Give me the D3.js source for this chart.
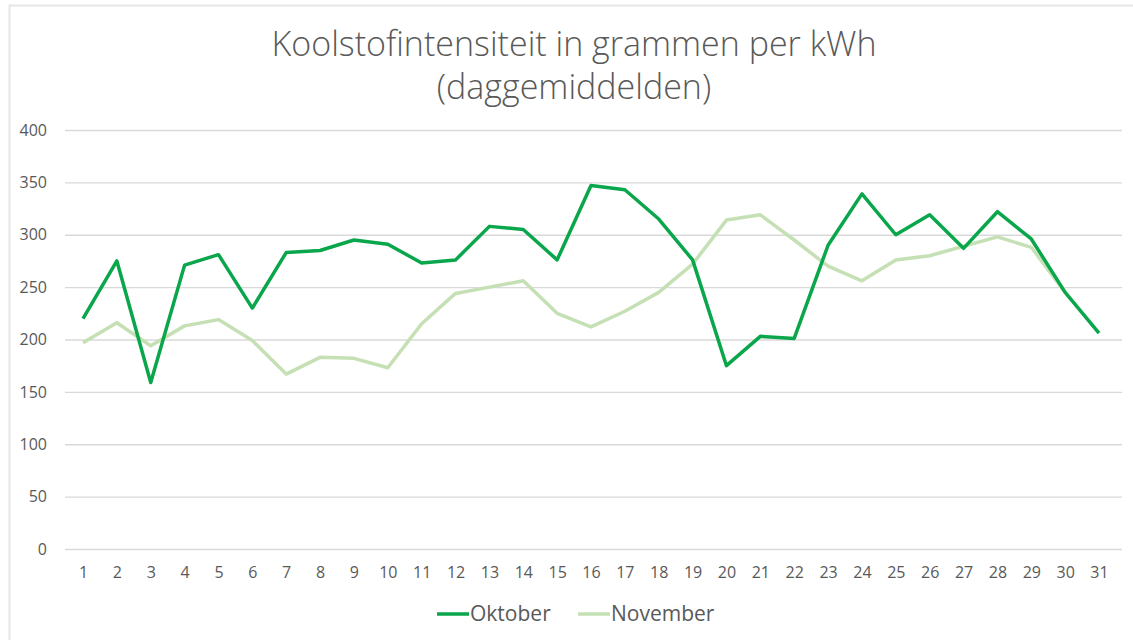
<!DOCTYPE html>
<html>
<head>
<meta charset="utf-8">
<script src="https://cdn.jsdelivr.net/npm/d3@7"></script>
<style>
  body { margin: 0; background: #fff; }
  text { font-family: "Open Sans", "Noto Sans", sans-serif; fill: #595959; }
</style>
</head>
<body>
<div id="chart"></div>
<script>
// daily averages, g CO2 per kWh
var days = d3.range(1, 32);
var oktober = [220, 275, 159, 271, 281, 230, 283, 285, 295, 291, 273, 276, 308, 305, 276, 347,
               343, 315, 276, 175, 203, 201, 290, 339, 300, 319, 287, 322, 296, 245, 206];
var november = [197, 216, 194, 213, 219, 199, 167, 183, 182, 173, 215, 244, 250, 256, 225, 212,
                227, 245, 272, 314, 319, 295, 270, 256, 276, 280, 289, 298, 288, 245];
var yTicks = [0, 50, 100, 150, 200, 250, 300, 350, 400];
var titleLines = ["Koolstofintensiteit in grammen per kWh", "(daggemiddelden)"];
var seriesNames = ["Oktober", "November"];
var seriesColors = ["#0aa64b", "#c5e0b4"];

var W = 1133, H = 640;
var margin = {top: 130, right: 11, bottom: 91, left: 65},
    width = W - margin.left - margin.right,
    height = H - margin.top - margin.bottom;

var svg = d3.select("#chart").append("svg")
    .attr("width", W).attr("height", H);

// chart frame
svg.append("rect")
    .attr("x", 9.5).attr("y", 5.5)
    .attr("width", W + 10).attr("height", H + 10)
    .attr("fill", "white").attr("stroke", "#e6e6e6").attr("stroke-width", 2);

// title
var title = svg.append("g");
title.selectAll("text").data(titleLines).enter().append("text")
    .attr("x", 574).attr("y", function(d, i){ return 56 + i * 43; })
    .attr("text-anchor", "middle")
    .style("font-size", "34px")
    .style("font-weight", 300)
    .text(function(d){ return d; });

var g = svg.append("g").attr("transform", "translate(" + margin.left + "," + margin.top + ")");

var x = d3.scalePoint().domain(days).range([18, width - 23]);
var y = d3.scaleLinear().domain([0, 400]).range([height, 0]);

// gridlines + y labels
g.append("g")
    .call(d3.axisLeft(y).tickValues(yTicks).tickSize(-width).tickPadding(18))
    .call(function(a){
        a.select(".domain").remove();
        a.selectAll(".tick line").attr("stroke", "#d9d9d9").attr("stroke-width", 1.3);
        a.selectAll(".tick text").style("font-size", "16px").attr("fill", "#595959");
    });

// x labels
g.append("g")
    .attr("transform", "translate(0," + height + ")")
    .call(d3.axisBottom(x).tickSize(0).tickPadding(18))
    .call(function(a){
        a.select(".domain").remove();
        a.selectAll(".tick text").style("font-size", "16px").attr("fill", "#595959");
    });

var line = d3.line()
    .x(function(d, i){ return x(days[i]); })
    .y(function(d){ return y(d); });

g.append("path").datum(november)
    .attr("fill", "none").attr("stroke", seriesColors[1])
    .attr("stroke-width", 3.5).attr("stroke-linejoin", "round")
    .attr("d", line);

g.append("path").datum(oktober)
    .attr("fill", "none").attr("stroke", seriesColors[0])
    .attr("stroke-width", 3.5).attr("stroke-linejoin", "round")
    .attr("d", line);

// legend
var legendX = [437, 578];
var legend = svg.selectAll(".legend").data(seriesNames).enter().append("g")
    .attr("class", "legend")
    .attr("transform", function(d, i){ return "translate(" + legendX[i] + ",614)"; });
legend.append("line")
    .attr("x1", 0).attr("x2", 32)
    .attr("stroke", function(d, i){ return seriesColors[i]; })
    .attr("stroke-width", 3.5);
legend.append("text")
    .attr("x", 33).attr("dy", "0.35em")
    .style("font-size", "21px")
    .text(function(d){ return d; });
</script>
</body>
</html>
